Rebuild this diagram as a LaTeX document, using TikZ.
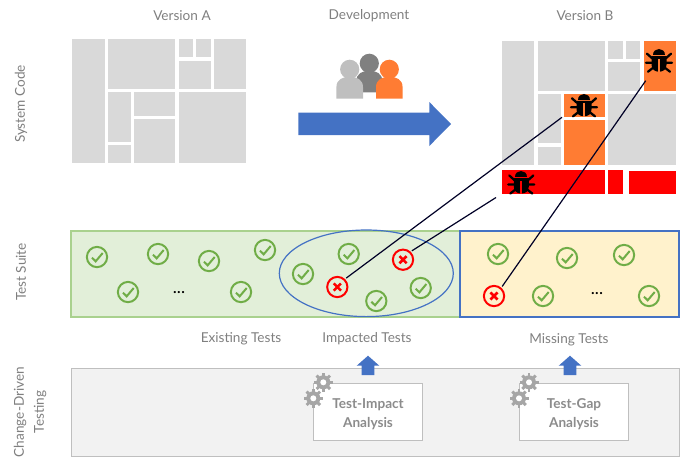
\documentclass[tikz,border=0pt]{standalone}
\usepackage{fontspec}
\setmainfont{Lato}
\definecolor{blockgray}{HTML}{D9D9D9}
\definecolor{bugorange}{HTML}{FF7C33}
\definecolor{bluefill}{HTML}{4472C4}
\definecolor{checkgreen}{HTML}{70AD47}
\definecolor{labelgray}{HTML}{7F7F7F}
\definecolor{panelgreen}{HTML}{E2EFD9}
\definecolor{panelgreenline}{HTML}{A9D18E}
\definecolor{panelyellow}{HTML}{FFF2CC}
\tikzset{
  x=0.75pt,y=-0.75pt,
  gb/.style={fill=blockgray},
  ob/.style={fill=bugorange},
  rb/.style={fill=red},
  lab/.style={text=labelgray,font=\fontsize{10.2}{15}\selectfont,align=center,inner sep=0pt},
  boxlab/.style={text=gray!90,font=\fontsize{10.2}{14.5}\bfseries\selectfont,align=center,inner sep=0pt},
  ring/.style={circle,draw,line width=1.5pt,minimum size=15.2pt,inner sep=0pt},
  conn/.style={draw=black!85!blue,line width=0.9pt},
  dots/.style={text=black,font=\fontsize{13}{15}\selectfont,inner sep=0pt},
  whitebox/.style={draw=gray!50,fill=white,line width=0.8pt,minimum width=81.5pt,minimum height=42.5pt,inner sep=0pt,boxlab},
}
\newcommand{\chk}[3]{\node[ring,draw=checkgreen] (#1) at (#2,#3) {};
  \draw[checkgreen,line width=1.5pt,shift={(#2,#3)}] (-5,.7) -- (-1.3,4.3) -- (5.7,-4);}
\newcommand{\crs}[3]{\node[ring,draw=red] (#1) at (#2,#3) {};
  \draw[red,line width=1.9pt,shift={(#2,#3)}] (-3.6,-3.6) -- (3.6,3.6) (-3.6,3.6) -- (3.6,-3.6);}
\newcommand{\bug}[3]{\begin{scope}[shift={(#1,#2)}]
  \fill[black] (-6,-5.8) .. controls (-6,-13.5) and (6,-13.5) .. (6,-5.8) -- cycle;
  \fill[black] (-7.5,-4.5) -- (7.5,-4.5) -- (7.5,4) .. controls (7.5,9) and (4,11) .. (0,11) .. controls (-4,11) and (-7.5,9) .. (-7.5,4) -- cycle;
  \draw[black,line width=1.7pt,line cap=round] (-12,-7) -- (-7,-2.5) (12,-7) -- (7,-2.5) (-13,2) -- (-7,2) (7,2) -- (13,2) (-11,11) -- (-6.5,7.5) (11,11) -- (6.5,7.5);
  \fill[#3] (-1,-2) rectangle (1,11.2);
\end{scope}}
\newcommand{\person}[5]{% x, head y, half width, bottom, colour
  \fill[#5] (#1,#2) circle (9.6);
  \fill[#5] (#1-#3,#4) -- (#1-#3,#2+18) .. controls (#1-#3,#2+10) and (#1-7,#2+7.5) .. (#1,#2+7.5)
    .. controls (#1+7,#2+7.5) and (#1+#3,#2+10) .. (#1+#3,#2+18) -- (#1+#3,#4) -- cycle;}
\newcommand{\gear}[3]{\begin{scope}[shift={(#1,#2)}]
  \fill[gray!70] (0,0) circle (7);
  \foreach \a in {0,45,...,315} \draw[gray!70,line width=2.2pt] (\a:5) -- (\a:9.5);
  \fill[#3] (0,0) circle (3);
\end{scope}}
\begin{document}
\begin{tikzpicture}
\useasboundingbox (0,0) rectangle (692,462);
% Version A blocks
\fill[gb] (72.3,39.3) rectangle (104.7,163.3);
\fill[gb] (108,39.3) rectangle (175.3,89.3);
\fill[gb] (178.7,39.3) rectangle (193,57.3);
\fill[gb] (196,39.3) rectangle (210.7,57.3);
\fill[gb] (214,39.3) rectangle (246,89.3);
\fill[gb] (178.7,60.7) rectangle (210.7,89.3);
\fill[gb] (108,92.3) rectangle (131,142);
\fill[gb] (108,145.3) rectangle (131,163.3);
\fill[gb] (134.3,92.3) rectangle (175.3,115.7);
\fill[gb] (134.3,119) rectangle (175.3,163.3);
\fill[gb] (178.7,92.3) rectangle (246,163.3);
% Version B blocks
\fill[gb] (502.3,41) rectangle (534,165);
\fill[gb] (537.7,41) rectangle (605,90.7);
\fill[gb] (608.3,41) rectangle (622.7,59);
\fill[gb] (626,41) rectangle (640.3,59);
\fill[ob] (643.7,41) rectangle (675.7,90.7);
\fill[gb] (608.3,62) rectangle (640.3,90.7);
\fill[gb] (537.7,94) rectangle (561,143.3);
\fill[gb] (537.7,147) rectangle (561,165);
\fill[ob] (564,94) rectangle (605,116.7);
\fill[ob] (564,120.3) rectangle (605,165);
\fill[gb] (608.3,94) rectangle (675.7,165);
\fill[rb] (502.3,170.3) rectangle (605,193.7);
\fill[rb] (608.3,170.3) rectangle (622.7,193.7);
\fill[rb] (628.7,171.3) rectangle (675.7,193.7);
\bug{659}{60.7}{bugorange}
\bug{584}{105.3}{bugorange}
\bug{521.3}{182.5}{red}
% People
\person{369.3}{63.3}{13}{92.3}{gray!100}
\person{349.7}{69.3}{13.3}{98.7}{gray!50}
\person{389.3}{69.3}{13.3}{98.7}{bugorange}
% Development arrow
\fill[bluefill] (298.3,112.7) -- (429.3,112.7) -- (429.3,102) -- (451,124) -- (429.3,146) -- (429.3,135) -- (298.3,135) -- cycle;
% Test suite
\fill[panelgreen] (71,231) rectangle (460,317);
\draw[panelgreenline,line width=0.9pt] (71,231) rectangle (460,317);
\fill[panelyellow] (460,231) rectangle (679,317);
\draw[bluefill,line width=1.05pt] (460,231) rectangle (679,317);
\draw[bluefill,line width=0.9pt] (366.3,273.3) ellipse (87 and 43.3);
\chk{c1}{97}{257}\chk{c2}{158}{254}\chk{c3}{209}{261}\chk{c4}{265}{250}
\chk{c5}{128}{292}\chk{c6}{241}{292}
\chk{c7}{303}{274}\chk{c8}{348.7}{254}\chk{c9}{376.3}{301}\chk{c10}{420.7}{288}
\crs{x1}{337.3}{287}\crs{x2}{403}{259.7}
\chk{c11}{498}{254}\chk{c12}{567}{258}\chk{c13}{624}{255}\chk{c14}{543}{296}\chk{c15}{649}{296}
\crs{x3}{494}{296}
\node[dots] (d1) at (179,293) {...};
\node[dots] (d2) at (597,294) {...};
% Connectors
\coordinate (e1) at (562,117.3);
\coordinate (e2) at (496,197.5);
\coordinate (e3) at (645.7,80.7);
\draw[conn] (x1.45) ++(1,-1) -- (e1);
\draw[conn] (x2.45) ++(1,-1) -- (e2);
\draw[conn] (x3.50) ++(1,-1) -- (e3);
% Change-driven panel
\fill[black!5] (71,368) rectangle (679,456);
\draw[gray!50,line width=0.75pt] (71,368) rectangle (679,456);
\node[whitebox] (tia) at (368,411.7) {\rule{0pt}{11.2pt}Test-Impact\\Analysis};
\node[whitebox] (tga) at (574,411.7) {\rule{0pt}{11.2pt}Test-Gap\\Analysis};
\gear{323.3}{382.3}{white}\gear{313.3}{398.3}{white}
\gear{529}{382.3}{white}\gear{519}{398.3}{white}
\fill[bluefill] (361.7,375) -- (361.7,365.7) -- (356.7,365.7) -- (368,355.7) -- (379.3,365.7) -- (374.3,365.7) -- (374.3,375) -- cycle;
\fill[bluefill] (563.7,375) -- (563.7,365.7) -- (558.7,365.7) -- (570,355.7) -- (581.3,365.7) -- (576.3,365.7) -- (576.3,375) -- cycle;
% Labels
\node[lab] (va) at (182,16) {Version A};
\node[lab] (dev) at (369,16) {Development};
\node[lab] (vb) at (585,16) {Version B};
\node[lab,rotate=90] (sc) at (21,104) {System Code};
\node[lab,rotate=90] (ts) at (21,272) {Test Suite};
\node[lab,rotate=90] (cd) at (30,412) {Change-Driven\\Testing};
\node[lab] (et) at (241,339) {Existing Tests};
\node[lab] (it) at (367,339) {Impacted Tests};
\node[lab] (mt) at (569,340) {Missing Tests};
\end{tikzpicture}
\end{document}
